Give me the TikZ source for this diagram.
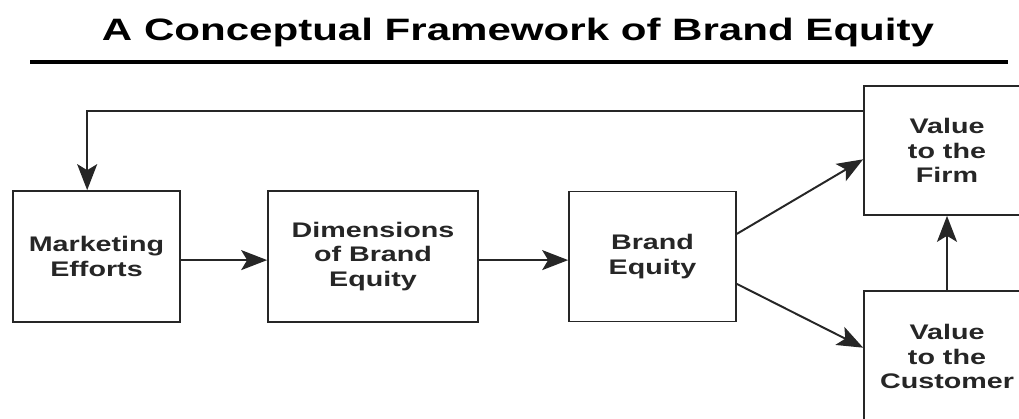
\documentclass[tikz,border=0pt]{standalone}
\usepackage{fontspec}
\newfontfamily\widefont{Liberation Sans}[FakeStretch=1.36]
\usepackage{tikz}
\usetikzlibrary{positioning, arrows, arrows.meta}

\begin{document}
\begin{tikzpicture}[
    box/.style={draw=black!85, line width=1.2pt, fill=white,
        minimum width=4.175cm, minimum height=3.275cm, inner sep=0pt,
        align=center, text=black!85,
        font=\widefont\bfseries\fontsize{15}{17.5}\selectfont},
    link/.style={draw=black!85, line width=1.4pt,
        -{Stealth[length=0.65cm, width=0.5cm, inset=0.15cm]}}
]
    \useasboundingbox (0,0) rectangle (25.475,-10.475);

    % 1. Title and the rule under it
    \node[anchor=base, font=\widefont\bfseries\fontsize{22}{26}\selectfont]
        (title) at (12.95,-1.0) {A Conceptual Framework of Brand Equity};
    \draw[line width=2.2pt] (0.75,-1.55) -- (25.2,-1.55);

    % 2. Define the boxes using explicit coordinates
    \node[box] (mkt) at (2.4125,-6.4125) {Marketing\\Efforts};
    \node[box, minimum width=5.25cm] (dim) at (9.325,-6.4125) {Dimensions\\of Brand\\Equity};
    \node[box, minimum height=3.25cm] (eq) at (16.3125,-6.4125) {Brand\\Equity};
    \node[box, minimum width=4.15cm, minimum height=3.225cm] (firm) at (23.675,-3.7625) {Value\\to the\\Firm};
    \node[box, minimum width=4.15cm] (cust) at (23.675,-8.9125) {Value\\to the\\Customer};

    % 3. Draw the arrows

    % left to right along the middle row (a little under centre)
    \draw[link] ([yshift=-0.09cm]mkt.east) -- ([yshift=-0.09cm]dim.west);
    \draw[link] ([yshift=-0.09cm]dim.east) -- ([yshift=-0.09cm]eq.west);

    % brand equity splits into the two values
    \draw[link] (eq.15) -- (firm.186);
    \draw[link] (eq.-18) -- (cust.174);

    % customer value feeds firm value
    \draw[link] (cust) -- (firm);

    % feedback from the firm back to marketing
    \draw[link] (firm.155) -| (mkt.98);

\end{tikzpicture}
\end{document}
